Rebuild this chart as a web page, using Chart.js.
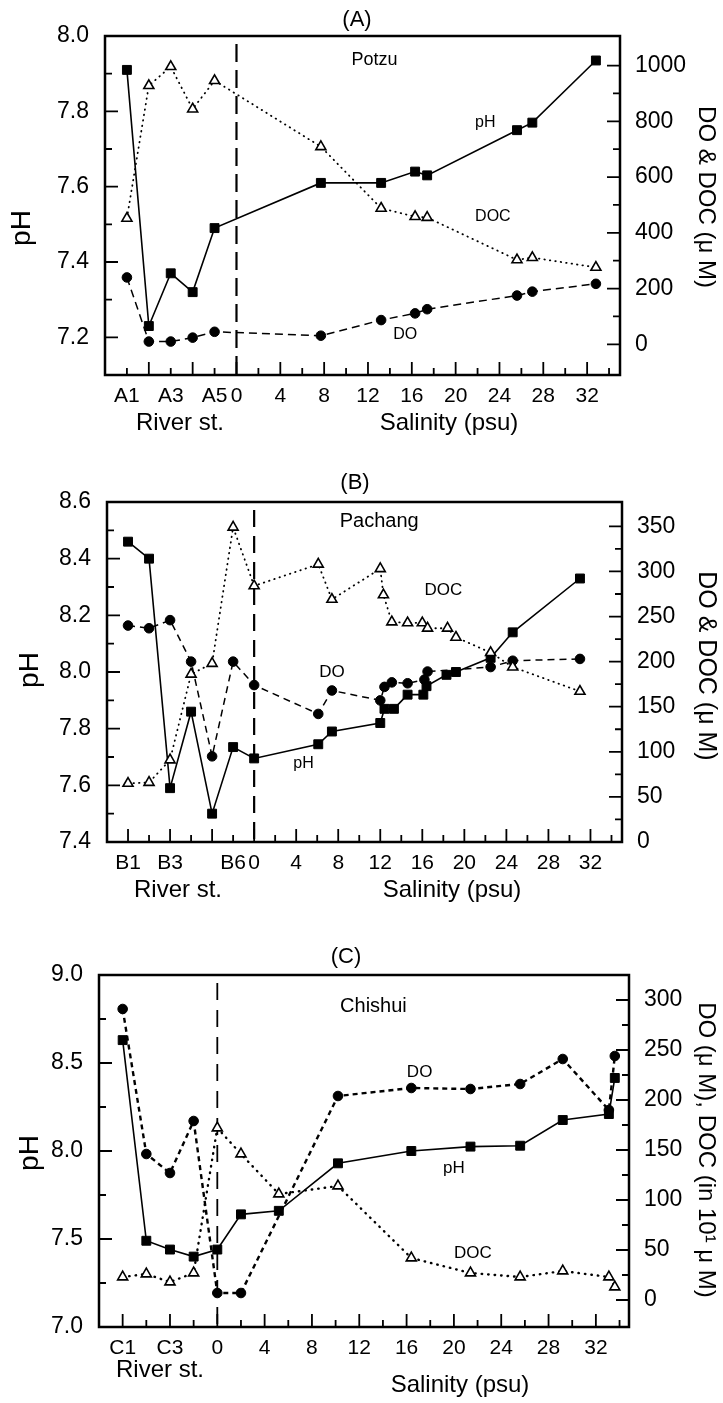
<!DOCTYPE html>
<html>
<head>
<meta charset="utf-8">
<script src="https://cdn.jsdelivr.net/npm/chart.js@4.4.1/dist/chart.umd.min.js"></script>
<style>
  html, body { margin: 0; padding: 0; background: #fff; }
  #wrap { position: relative; width: 723px; height: 1403px; }
  .panel { position: absolute; left: 0; width: 723px; }
</style>
</head>
<body>
<div id="wrap">
  <div class="panel" style="top:0;height:440px"><canvas id="chartA" width="723" height="440"></canvas></div>
  <div class="panel" style="top:440px;height:470px"><canvas id="chartB" width="723" height="470"></canvas></div>
  <div class="panel" style="top:910px;height:493px"><canvas id="chartC" width="723" height="493"></canvas></div>
</div>
<script>
// ---- (A) Potzu : river stations at -10..-2, then salinity (psu) ----
const potzuX   = [-10, -8, -6, -4, -2, 7.7, 13.2, 16.3, 17.4, 25.6, 27.0, 32.8];
const potzuPH  = [7.91, 7.23, 7.37, 7.32, 7.49, 7.61, 7.61, 7.64, 7.63, 7.75, 7.77, 7.935];
const potzuDO  = [240, 10, 10, 24, 45, 31, 87, 111, 126, 175, 189, 217];
const potzuDOC = [452, 928, 996, 844, 946, 709, 488, 458, 455, 303, 311, 276];

// ---- (B) Pachang ----
const pachangPhX  = [-12, -10, -8, -6, -4, -2, 0, 6.1, 7.4, 12.0, 12.4, 13.3, 14.6, 16.1, 16.4, 18.3, 19.2, 22.5, 24.6, 31.0];
const pachangPH   = [8.46, 8.40, 7.59, 7.86, 7.50, 7.735, 7.695, 7.745, 7.79, 7.82, 7.87, 7.87, 7.92, 7.92, 7.95, 7.99, 8.00, 8.05, 8.14, 8.33];
const pachangDoX  = [-12, -10, -8, -6, -4, -2, 0, 6.1, 7.4, 12.0, 12.4, 13.1, 14.6, 16.2, 16.5, 22.5, 24.6, 31.0];
const pachangDO   = [240, 237, 246, 200, 95, 200, 174, 142, 168, 157, 172, 177, 176, 180, 189, 194, 201, 203];
const pachangDocX = [-12, -10, -8, -6, -4, -2, 0, 6.1, 7.4, 12.0, 12.3, 13.1, 14.6, 16.0, 16.5, 18.4, 19.2, 22.5, 24.6, 31.0];
const pachangDOC  = [65, 66, 91, 186, 198, 349, 284, 308, 269, 303, 274, 244, 243, 243, 237, 237, 227, 210, 194, 167];

// ---- (C) Chishui (DOC in 10^1 uM) ----
const chishuiPhX  = [-8, -6, -4, -2, 0, 2.0, 5.2, 10.2, 16.4, 21.4, 25.6, 29.2, 33.1, 33.6];
const chishuiPH   = [8.63, 7.49, 7.44, 7.40, 7.44, 7.64, 7.66, 7.93, 8.00, 8.025, 8.03, 8.176, 8.21, 8.415];
const chishuiDoX  = [-8, -6, -4, -2, 0, 2.0, 10.2, 16.4, 21.4, 25.6, 29.2, 33.1, 33.6];
const chishuiDO   = [291, 146, 127, 179, 7, 7, 204, 212, 211, 216, 241, 190, 244];
const chishuiDocX = [-8, -6, -4, -2, 0, 2.0, 5.2, 10.2, 16.4, 21.4, 25.6, 29.2, 33.1, 33.6];
const chishuiDOC  = [23, 26, 18, 27, 172, 146, 106, 114, 42, 27, 23, 29, 23, 13];

// ---- tick labels ----
const potzuXTickVals   = [-10, -6, -2, 0, 4, 8, 12, 16, 20, 24, 28, 32];
const potzuXTickText   = ['A1', 'A3', 'A5', '0', '4', '8', '12', '16', '20', '24', '28', '32'];
const pachangXTickVals = [-12, -8, -2, 0, 4, 8, 12, 16, 20, 24, 28, 32];
const pachangXTickText = ['B1', 'B3', 'B6', '0', '4', '8', '12', '16', '20', '24', '28', '32'];
const chishuiXTickVals = [-8, -4, 0, 4, 8, 12, 16, 20, 24, 28, 32];
const chishuiXTickText = ['C1', 'C3', '0', '4', '8', '12', '16', '20', '24', '28', '32'];
const potzuPhTicks   = [7.2, 7.4, 7.6, 7.8, 8.0];
const potzuDoTicks   = [0, 200, 400, 600, 800, 1000];
const pachangPhTicks = [7.4, 7.6, 7.8, 8.0, 8.2, 8.4, 8.6];
const pachangDoTicks = [0, 50, 100, 150, 200, 250, 300, 350];
const chishuiPhTicks = [7.0, 7.5, 8.0, 8.5, 9.0];
const chishuiDoTicks = [0, 50, 100, 150, 200, 250, 300];

const FONT = "'Liberation Sans', Arial, sans-serif";

function pts(xs, ys) { return xs.map((x, i) => ({ x: x, y: ys[i] })); }
function steps(a, b, s) { const r = []; for (let v = a; v <= b + s / 1000; v += s) r.push(+v.toFixed(4)); return r; }
function isMajor(v, m) { const q = v / m; return Math.abs(q - Math.round(q)) < 1e-6; }

// inward tick marks, dashed zero line, frame and annotations
const decor = {
  id: 'decor',
  beforeDatasetsDraw(chart) {
    const o = chart.options.plugins.decor;
    const ctx = chart.ctx, a = chart.chartArea;
    const sx = chart.scales.x, sy = chart.scales.y, sy2 = chart.scales.y2;
    ctx.save();
    ctx.strokeStyle = '#000';
    const x0 = sx.getPixelForValue(0);
    ctx.lineWidth = o.zeroWidth;
    ctx.setLineDash(o.zeroDash);
    ctx.beginPath(); ctx.moveTo(x0, a.top + 8); ctx.lineTo(x0, a.bottom); ctx.stroke();
    ctx.setLineDash([]);
    ctx.lineWidth = 1.8;
    ctx.beginPath();
    o.xMarks.forEach(v => {
      const p = sx.getPixelForValue(v), len = isMajor(v, o.xMajor) ? 13 : 7;
      ctx.moveTo(p, a.bottom); ctx.lineTo(p, a.bottom - len);
    });
    o.yMarks.forEach(v => {
      const p = sy.getPixelForValue(v), len = isMajor(v, o.yMajor) ? 13 : 7;
      ctx.moveTo(a.left, p); ctx.lineTo(a.left + len, p);
    });
    o.y2Marks.forEach(v => {
      const p = sy2.getPixelForValue(v), len = isMajor(v, o.y2Major) ? 13 : 7;
      ctx.moveTo(a.right, p); ctx.lineTo(a.right - len, p);
    });
    ctx.stroke();
    ctx.restore();
  },
  afterDatasetsDraw(chart) {
    const o = chart.options.plugins.decor;
    const ctx = chart.ctx, a = chart.chartArea;
    const sx = chart.scales.x, sy = chart.scales.y;
    ctx.save();
    ctx.strokeStyle = '#000';
    ctx.lineWidth = 2.5;
    ctx.strokeRect(a.left, a.top, a.right - a.left, a.bottom - a.top);
    ctx.fillStyle = '#000';
    ctx.textBaseline = 'middle';
    o.texts.forEach(t => {
      const x = t.data ? sx.getPixelForValue(t.x) : t.x;
      const y = t.data ? sy.getPixelForValue(t.y) : t.y;
      ctx.save();
      ctx.font = t.size + 'px ' + FONT;
      ctx.textAlign = t.align || 'center';
      ctx.translate(x, y);
      if (t.rot) ctx.rotate(t.rot);
      ctx.fillText(t.t, 0, 0);
      ctx.restore();
    });
    ctx.restore();
  }
};

function makePanel(id, p) {
  const tickFont = { size: 23, family: FONT };
  return new Chart(document.getElementById(id), {
    type: 'line',
    data: {
      datasets: [
        {
          label: 'DOC', data: pts(p.docX, p.doc), yAxisID: 'y2',
          borderColor: '#000', borderWidth: p.docWidth, borderDash: [0.5, p.docGap], borderCapStyle: 'round',
          pointStyle: 'triangle', pointRadius: 5.8, pointBackgroundColor: '#fff',
          pointBorderColor: '#000', pointBorderWidth: 1.6, tension: 0, fill: false
        },
        {
          label: 'DO', data: pts(p.doX, p.do), yAxisID: 'y2',
          borderColor: '#000', borderWidth: p.doWidth, borderDash: p.doDash,
          pointStyle: 'circle', pointRadius: 4.8, pointBackgroundColor: '#000',
          pointBorderColor: '#000', pointBorderWidth: 1, tension: 0, fill: false
        },
        {
          label: 'pH', data: pts(p.phX, p.ph), yAxisID: 'y',
          borderColor: '#000', borderWidth: 1.6,
          pointStyle: 'rect', pointRadius: 6.3, pointBackgroundColor: '#000',
          pointBorderColor: '#000', pointBorderWidth: 1, tension: 0, fill: false
        }
      ]
    },
    options: {
      responsive: false,
      animation: false,
      devicePixelRatio: 1,
      layout: { padding: { top: p.top, left: 0, right: 0, bottom: 0 } },
      plugins: { legend: { display: false }, tooltip: { enabled: false }, decor: p.decor },
      scales: {
        x: {
          type: 'linear', min: p.xMin, max: p.xMax,
          afterFit: s => { s.height = p.xHeight; },
          afterBuildTicks: s => { s.ticks = p.xTickVals.map(v => ({ value: v })); },
          ticks: {
            autoSkip: false, maxRotation: 0, padding: 9, color: '#000',
            font: { size: 21, family: FONT },
            callback: (v, i) => p.xTickText[i]
          },
          grid: { display: false, drawTicks: false },
          border: { display: false }
        },
        y: {
          type: 'linear', position: 'left', min: p.yMin, max: p.yMax,
          afterFit: s => { s.width = p.left; },
          afterBuildTicks: s => { s.ticks = p.yTicks.map(v => ({ value: v })); },
          ticks: { autoSkip: false, padding: 16, color: '#000', font: tickFont, callback: v => v.toFixed(1) },
          grid: { display: false, drawTicks: false },
          border: { display: false }
        },
        y2: {
          type: 'linear', position: 'right', min: p.y2Min, max: p.y2Max,
          afterFit: s => { s.width = p.right; },
          afterBuildTicks: s => { s.ticks = p.y2Ticks.map(v => ({ value: v })); },
          ticks: { autoSkip: false, padding: 15, color: '#000', font: tickFont, callback: v => String(v) },
          grid: { display: false, drawTicks: false },
          border: { display: false }
        }
      }
    },
    plugins: [decor]
  });
}

const ROT = Math.PI / 2;

makePanel('chartA', {
  phX: potzuX, ph: potzuPH, doX: potzuX, do: potzuDO, docX: potzuX, doc: potzuDOC,
  xMin: -12, xMax: 35, yMin: 7.1, yMax: 8.0, y2Min: -110, y2Max: 1106,
  top: 36, xHeight: 65, left: 105, right: 103,
  xTickVals: potzuXTickVals, xTickText: potzuXTickText, yTicks: potzuPhTicks, y2Ticks: potzuDoTicks,
  doDash: [8, 5], doWidth: 1.5, docGap: 5, docWidth: 1.8,
  decor: {
    zeroDash: [18, 8], zeroWidth: 2.2,
    xMarks: steps(-10, 34, 2), xMajor: 4,
    yMarks: steps(7.2, 7.9, 0.1), yMajor: 0.2,
    y2Marks: steps(0, 1000, 100), y2Major: 200,
    texts: [
      { t: '(A)', x: 357, y: 20, size: 22 },
      { t: 'pH', x: 22, y: 228, size: 28, rot: -ROT },
      { t: 'DO & DOC (\u03bc M)', x: 706, y: 197, size: 24, rot: ROT },
      { t: 'River st.', x: 180, y: 423, size: 24 },
      { t: 'Salinity (psu)', x: 449, y: 423, size: 24 },
      { t: 'Potzu', x: 12.6, y: 7.936, size: 18, data: true },
      { t: 'pH', x: 22.7, y: 7.77, size: 16, data: true },
      { t: 'DOC', x: 23.4, y: 7.52, size: 16, data: true },
      { t: 'DO', x: 15.4, y: 7.206, size: 16, data: true }
    ]
  }
});

makePanel('chartB', {
  phX: pachangPhX, ph: pachangPH, doX: pachangDoX, do: pachangDO, docX: pachangDocX, doc: pachangDOC,
  xMin: -14, xMax: 35, yMin: 7.4, yMax: 8.6, y2Min: 0, y2Max: 377,
  top: 62, xHeight: 68, left: 107, right: 101,
  xTickVals: pachangXTickVals, xTickText: pachangXTickText, yTicks: pachangPhTicks, y2Ticks: pachangDoTicks,
  doDash: [7, 5], doWidth: 1.5, docGap: 5, docWidth: 1.8,
  decor: {
    zeroDash: [17, 9], zeroWidth: 2.2,
    xMarks: steps(-12, 34, 2), xMajor: 4,
    yMarks: steps(7.5, 8.5, 0.1), yMajor: 0.2,
    y2Marks: steps(25, 350, 25), y2Major: 50,
    texts: [
      { t: '(B)', x: 355, y: 43, size: 22 },
      { t: 'pH', x: 30, y: 230, size: 28, rot: -ROT },
      { t: 'DO & DOC (\u03bc M)', x: 706, y: 226, size: 25, rot: ROT },
      { t: 'River st.', x: 178, y: 450, size: 24 },
      { t: 'Salinity (psu)', x: 452, y: 450, size: 24 },
      { t: 'Pachang', x: 11.9, y: 8.53, size: 20, data: true },
      { t: 'DOC', x: 18.0, y: 8.29, size: 17, data: true },
      { t: 'DO', x: 7.4, y: 8.0, size: 17, data: true },
      { t: 'pH', x: 4.7, y: 7.677, size: 16, data: true }
    ]
  }
});

makePanel('chartC', {
  phX: chishuiPhX, ph: chishuiPH, doX: chishuiDoX, do: chishuiDO, docX: chishuiDocX, doc: chishuiDOC,
  xMin: -10, xMax: 34.8, yMin: 7.0, yMax: 9.0, y2Min: -27, y2Max: 325,
  top: 65, xHeight: 76, left: 99, right: 94,
  xTickVals: chishuiXTickVals, xTickText: chishuiXTickText, yTicks: chishuiPhTicks, y2Ticks: chishuiDoTicks,
  doDash: [5, 4], doWidth: 2.4, docGap: 6, docWidth: 2.4,
  decor: {
    zeroDash: [17, 10], zeroWidth: 1.8,
    xMarks: steps(-8, 34, 2), xMajor: 4,
    yMarks: steps(7.25, 8.75, 0.25), yMajor: 0.5,
    y2Marks: steps(0, 300, 25), y2Major: 50,
    texts: [
      { t: '(C)', x: 346, y: 47, size: 22 },
      { t: 'pH', x: 30, y: 243, size: 28, rot: -ROT },
      { t: 'DO (\u03bc M), DOC (in 10\u00b9 \u03bc M)', x: 706, y: 240, size: 24, rot: ROT },
      { t: 'River st.', x: 160, y: 460, size: 24 },
      { t: 'Salinity (psu)', x: 460, y: 475, size: 24 },
      { t: 'Chishui', x: 13.2, y: 8.82, size: 20, data: true },
      { t: 'DO', x: 17.1, y: 8.445, size: 17, data: true },
      { t: 'pH', x: 20.0, y: 7.90, size: 17, data: true },
      { t: 'DOC', x: 21.6, y: 7.42, size: 17, data: true }
    ]
  }
});
</script>
</body>
</html>
